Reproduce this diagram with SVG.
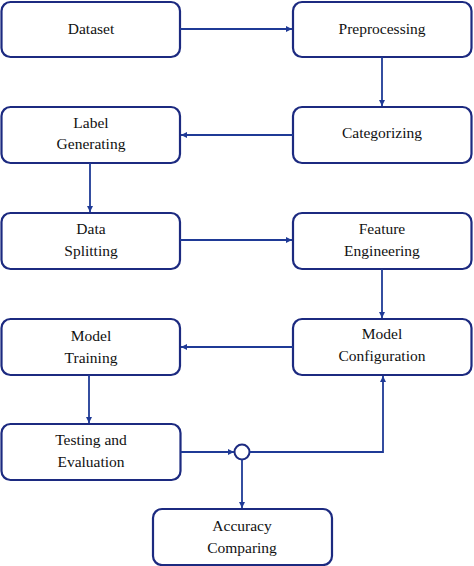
<svg xmlns="http://www.w3.org/2000/svg" width="474" height="566" viewBox="0 0 474 566">
<style>
.box{fill:#fff;stroke:#1c2a80;stroke-width:2.2}
.t{font-size:15.5px;fill:#111;text-anchor:middle}
.ln{fill:none;stroke:#1f3a96;stroke-width:1.8}
</style>
<defs>
<marker id="ah" markerWidth="8" markerHeight="8" refX="6" refY="3" orient="auto" markerUnits="userSpaceOnUse">
<path d="M0,0 L6,3 L0,6 z" fill="#1f3a96"/>
</marker>
</defs>
<g font-family="Liberation Serif, Times New Roman, serif">
<g id="dataset"><rect class="box" x="1.5" y="2" width="178.5" height="55" rx="9"/><text class="t" x="91" y="34">Dataset</text></g>
<g id="preprocessing"><rect class="box" x="293" y="2" width="178.5" height="55" rx="9"/><text class="t" x="382" y="34">Preprocessing</text></g>
<g id="label-generating"><rect class="box" x="1.5" y="107" width="178.5" height="56" rx="9"/><text class="t" x="91" y="128">Label</text><text class="t" x="91" y="149">Generating</text></g>
<g id="categorizing"><rect class="box" x="293" y="107" width="178.5" height="56" rx="9"/><text class="t" x="382" y="138">Categorizing</text></g>
<g id="data-splitting"><rect class="box" x="1.5" y="213" width="178.5" height="56" rx="9"/><text class="t" x="91" y="234">Data</text><text class="t" x="91" y="256">Splitting</text></g>
<g id="feature-engineering"><rect class="box" x="293" y="213" width="178.5" height="56" rx="9"/><text class="t" x="382" y="234">Feature</text><text class="t" x="382" y="256">Engineering</text></g>
<g id="model-training"><rect class="box" x="1.5" y="319" width="178.5" height="56" rx="9"/><text class="t" x="91" y="341">Model</text><text class="t" x="91" y="363">Training</text></g>
<g id="model-configuration"><rect class="box" x="293" y="319" width="178.5" height="56" rx="9"/><text class="t" x="382" y="339">Model</text><text class="t" x="382" y="361">Configuration</text></g>
<g id="testing-evaluation"><rect class="box" x="1.5" y="424" width="179" height="56" rx="9"/><text class="t" x="91" y="445">Testing and</text><text class="t" x="91" y="467">Evaluation</text></g>
<g id="accuracy-comparing"><rect class="box" x="153" y="509" width="179" height="56" rx="9"/><text class="t" x="242" y="531">Accuracy</text><text class="t" x="242" y="553">Comparing</text></g>
</g>
<g id="junction"><circle cx="242" cy="452" r="7.5" fill="#fff" stroke="#1c2a80" stroke-width="2"/></g>
<g id="connectors">
<path class="ln" d="M180,29 H292" marker-end="url(#ah)"/>
<path class="ln" d="M382,57 V106" marker-end="url(#ah)"/>
<path class="ln" d="M293,135 H181" marker-end="url(#ah)"/>
<path class="ln" d="M90,163 V212" marker-end="url(#ah)"/>
<path class="ln" d="M180,240 H292" marker-end="url(#ah)"/>
<path class="ln" d="M382,269 V318" marker-end="url(#ah)"/>
<path class="ln" d="M293,347 H181" marker-end="url(#ah)"/>
<path class="ln" d="M89,375 V423" marker-end="url(#ah)"/>
<path class="ln" d="M180.5,452 H234" marker-end="url(#ah)"/>
<path class="ln" d="M249.5,452 H383 V376" marker-end="url(#ah)"/>
<path class="ln" d="M242,459.5 V508" marker-end="url(#ah)"/>
</g>
</svg>
